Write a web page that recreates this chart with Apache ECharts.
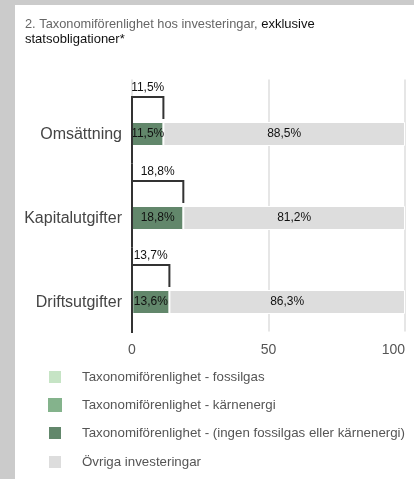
<!DOCTYPE html>
<html><head><meta charset="utf-8">
<script src="https://cdn.jsdelivr.net/npm/echarts@6/dist/echarts.min.js"></script>
<style>
html,body{margin:0;padding:0;background:#cbcbcb;width:414px;height:479px;overflow:hidden}
#c{position:absolute;left:15px;top:5px;width:399px;height:474px;background:#fff}
</style></head><body><div id="c"></div>
<script>
const categories = ['Omsättning', 'Kapitalutgifter', 'Driftsutgifter'];
const totalAligned = [11.5, 18.8, 13.7];
const fossilgas = [0, 0, 0];
const karnenergi = [0, 0, 0.1];
const ingen = [11.5, 18.8, 13.6];
const ovriga = [88.5, 81.2, 86.3];
const xTicks = [0, 50, 100];
const legendNames = ['Taxonomiförenlighet - fossilgas', 'Taxonomiförenlighet - kärnenergi', 'Taxonomiförenlighet - (ingen fossilgas eller kärnenergi)', 'Övriga investeringar'];

const FONT = '"Liberation Sans", Arial, Helvetica, sans-serif';
const BR_W = 22, GAP = 3, BAR_W = 24;
const fmt = v => String(v).replace('.', ',') + '%';

const chart = echarts.init(document.getElementById('c'), null, {renderer: 'canvas'});
const brOffTop = -(BR_W + GAP + BAR_W) / 2;

const stackLabel = {show: true, position: 'inside', color: '#111', fontSize: 12, fontFamily: FONT,
  formatter: p => fmt(p.value)};

chart.setOption({
  animation: false,
  title: {
    left: 5, top: 7,
    text: '{a|2. Taxonomiförenlighet hos investeringar, }{b|exklusive}\n{b|statsobligationer*}',
    textStyle: {
      fontWeight: 'normal',
      rich: {
        a: {fontSize: 12.8, color: '#666', fontFamily: FONT, lineHeight: 15, fontWeight: 'normal'},
        b: {fontSize: 13, color: '#111', fontFamily: FONT, lineHeight: 15, fontWeight: 'normal'}
      }
    }
  },
  legend: {
    orient: 'vertical', left: 27, top: 359,
    itemWidth: 14, itemHeight: 14, itemGap: 13, icon: 'rect',
    data: legendNames,
    textStyle: {fontSize: 13.3, color: '#555', fontFamily: FONT, padding: [0, 0, 0, 15]}
  },
  grid: {left: 117, right: 9, top: 74.5, bottom: 147.5, containLabel: false, outerBoundsMode: 'none'},
  xAxis: {
    type: 'value', min: xTicks[0], max: xTicks[xTicks.length - 1], interval: 50,
    axisLine: {show: false}, axisTick: {show: false},
    axisLabel: {fontSize: 14, color: '#555', fontFamily: FONT, margin: 12, alignMaxLabel: 'right'},
    splitLine: {show: true, lineStyle: {color: '#e6e6e6', width: 2}}
  },
  yAxis: {
    type: 'category', data: categories, inverse: true,
    axisLine: {show: false},
    axisTick: {show: false},
    axisLabel: {fontSize: 16, color: '#444', fontFamily: FONT, margin: 10,
      verticalAlign: 'top', lineHeight: 16, padding: [5, 0, 0, 0]}
  },
  series: [
    {
      name: 'bracket', type: 'bar', stack: 'br', barWidth: BR_W, barGap: (GAP / BR_W),
      data: totalAligned, itemStyle: {color: 'rgba(0,0,0,0)'}, silent: true,
      label: {show: true, position: 'top', distance: 3, color: '#111', fontSize: 12, fontFamily: FONT,
        formatter: p => fmt(p.value)}
    },
    {
      name: 'bracketLines', type: 'custom', silent: true,
      data: totalAligned.map((v, i) => [v, i]),
      encode: {x: 0, y: 1},
      renderItem: function (params, api) {
        const v = api.value(0), i = api.value(1);
        const p1 = api.coord([v, i]);
        const p0 = api.coord([0, i]);
        const band = api.size([0, 1])[1];
        const y0 = p1[1] + brOffTop, y1 = y0 + BR_W;
        const axTop = i === 0 ? y0 - 1 : p0[1] - band / 2;
        const axBot = p0[1] + band / 2 + (i === categories.length - 1 ? 1.5 : 0);
        return {type: 'group', children: [
          {type: 'polyline', shape: {points: [[p0[0], y1], [p0[0], y0], [p1[0], y0], [p1[0], y1]]},
            style: {stroke: '#333', lineWidth: 2, fill: null}},
          {type: 'line', shape: {x1: p0[0], y1: axTop, x2: p0[0], y2: axBot},
            style: {stroke: '#333', lineWidth: 2}}
        ]};
      },
      z: 3
    },
    {name: legendNames[0], type: 'bar', stack: 'inv', barWidth: BAR_W, data: fossilgas,
      itemStyle: {color: '#c6e4c5', borderColor: '#fff', borderWidth: 1}, label: {show: false}},
    {name: legendNames[1], type: 'bar', stack: 'inv', barWidth: BAR_W, data: karnenergi,
      itemStyle: {color: '#84b38c', borderColor: '#fff', borderWidth: 0}, label: {show: false}},
    {name: legendNames[2], type: 'bar', stack: 'inv', barWidth: BAR_W, data: ingen,
      itemStyle: {color: '#62876b', borderColor: '#fff', borderWidth: 1}, label: stackLabel},
    {name: legendNames[3], type: 'bar', stack: 'inv', barWidth: BAR_W, data: ovriga,
      itemStyle: {color: '#dddddd', borderColor: '#fff', borderWidth: 1}, label: stackLabel}
  ]
});
</script></body></html>
